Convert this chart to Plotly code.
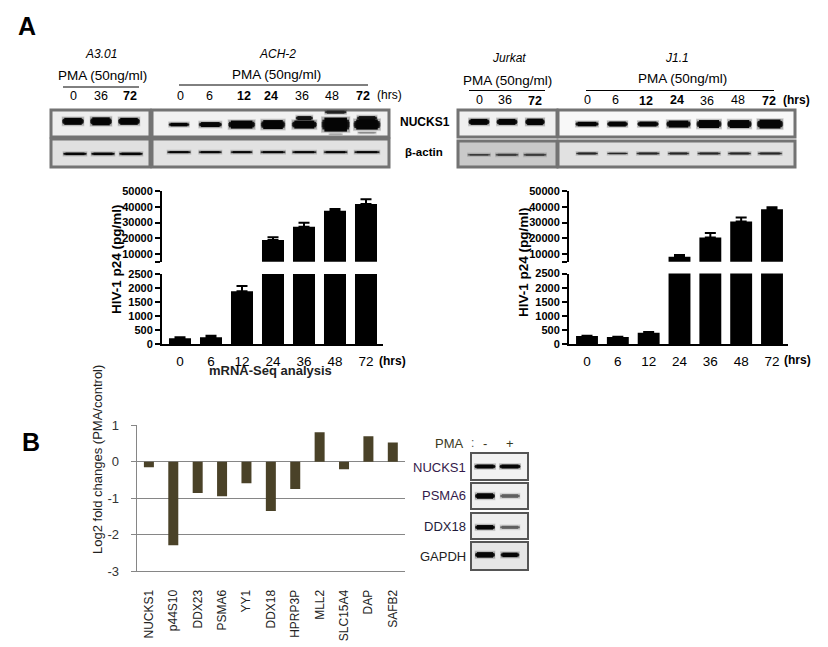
import plotly.graph_objects as go

W, H = 828, 647

# ---------------- data ----------------
hours = ["0", "6", "12", "24", "36", "48", "72"]
ach2_p24 = [213, 250, 1890, 18900, 27350, 37500, 41750]
ach2_err = [37, 50, 180, 1700, 2550, 1100, 2950]
j11_p24 = [293, 258, 411, 8300, 20400, 30600, 38400]
j11_err = [7, 12, 19, 1100, 3000, 2500, 1300]
upper_ticks = [10000, 20000, 30000, 40000, 50000]
lower_ticks = [0, 500, 1000, 1500, 2000, 2500]

genes = ["NUCKS1", "p44S10", "DDX23", "PSMA6", "YY1", "DDX18", "HPRP3P", "MLL2", "SLC15A4", "DAP", "SAFB2"]
log2fc = [-0.15, -2.29, -0.86, -0.95, -0.59, -1.35, -0.75, 0.81, -0.21, 0.70, 0.53]
log2_ticks = [-3, -2, -1, 0, 1]
log2_ticktext = ["-3", "-2", "-1", "0", "1"]

# band strength of each blot lane: band length (lanes), band thickness (px)
a301_nucks_len = [0.78, 0.78, 0.78]
a301_nucks_thick = [7, 8, 7]
a301_actin_len = [0.85, 0.85, 0.85]
a301_actin_thick = [2.5, 2.5, 2.5]
ach2_nucks_len = [0.66, 0.74, 0.86, 0.78, 0.80, 0.90, 0.86]
ach2_nucks_thick = [3.5, 5, 8, 9, 8, 14, 10]
ach2_actin_len = [0.76, 0.74, 0.70, 0.80, 0.78, 0.76, 0.82]
ach2_actin_thick = [2, 2, 2, 2, 2, 2, 2]
# extra smears beside the main ACH-2 bands: lane, height in panel, length, thickness, ink
ach2_extra_lane = [4, 5, 5, 6, 6]
ach2_extra_frac = [0.70, 0.92, 0.10, 0.70, 0.16]
ach2_extra_len = [0.55, 0.70, 0.45, 0.65, 0.60]
ach2_extra_thick = [4, 3, 1.5, 4, 1.5]
ach2_extra_ink = ["#111111", "#222222", "#aaaaaa", "#111111", "#8a8a8a"]
jur_nucks_len = [0.75, 0.75, 0.70]
jur_nucks_thick = [6, 6, 6.5]
jur_actin_len = [0.82, 0.82, 0.82]
jur_actin_thick = [1.5, 2, 2]
j11_nucks_len = [0.76, 0.68, 0.70, 0.80, 0.82, 0.80, 0.86]
j11_nucks_thick = [4.5, 5, 5, 7, 8, 8, 9]
j11_actin_len = [0.72, 0.68, 0.76, 0.70, 0.76, 0.76, 0.80]
j11_actin_thick = [2, 1.5, 2, 2, 2, 2, 2]
gel_nucks_len = [0.85, 0.85]
gel_nucks_thick = [4, 4]
gel_psma6_len = [0.80, 0.80]
gel_psma6_thick = [5.5, 3.5]
gel_ddx18_len = [0.80, 0.80]
gel_ddx18_thick = [4.5, 3]
gel_gapdh_len = [0.80, 0.75]
gel_gapdh_thick = [5.5, 4.5]
gel_ink_plus = ["#050505", "#5f5f5f"]

fig = go.Figure()
layout = dict(
    width=W, height=H, autosize=False, margin=dict(l=0, r=0, t=0, b=0),
    paper_bgcolor="white", plot_bgcolor="rgba(0,0,0,0)", showlegend=False,
    font=dict(family="Liberation Sans", color="black"),
)
shapes, annotations = [], []
n_ax = [0]


def dom_x(a, b):
    return [a / W, b / W]


def dom_y(top, bottom):
    return [1 - bottom / H, 1 - top / H]


def new_axes(x_dom, y_dom, xcfg, ycfg):
    n_ax[0] += 1
    i = n_ax[0]
    xn, yn = ("x", "y") if i == 1 else (f"x{i}", f"y{i}")
    key = "" if i == 1 else str(i)
    layout["xaxis" + key] = dict(domain=dom_x(*x_dom), anchor=yn, automargin=False, **xcfg)
    layout["yaxis" + key] = dict(domain=dom_y(*y_dom), anchor=xn, automargin=False, **ycfg)
    return xn, yn


def text(x, y, s, size=12, bold=False, italic=False, color="black", anchor="center", angle=0):
    if bold:
        s = f"<b>{s}</b>"
    if italic:
        s = f"<i>{s}</i>"
    annotations.append(dict(x=x / W, y=1 - y / H, xref="paper", yref="paper", text=s, showarrow=False,
                            xanchor=anchor, yanchor="middle", textangle=angle,
                            font=dict(size=size, color=color, family="Liberation Sans")))


def hline(x0, x1, y, color="black", width=1):
    shapes.append(dict(type="line", xref="paper", yref="paper", x0=x0 / W, x1=x1 / W,
                       y0=1 - y / H, y1=1 - y / H, line=dict(color=color, width=width)))


def blot(x_dom, y_dom, lane_first_px, lane_last_px, lengths, thicks, bg, border="#737373",
         ink="#050505", band_frac=0.5, bw=3, inks=None, extras=None):
    n = len(lengths)
    step = (lane_last_px - lane_first_px) / max(n - 1, 1)
    xr = [(x_dom[0] - lane_first_px) / step, (x_dom[1] - lane_first_px) / step]
    hide = dict(visible=False, fixedrange=True)
    xn, yn = new_axes(x_dom, y_dom, dict(range=xr, **hide), dict(range=[0, 1], **hide))
    shapes.append(dict(type="rect", xref=f"{xn} domain", yref=f"{yn} domain", x0=0, x1=1, y0=0, y1=1,
                       fillcolor=bg, line=dict(color=border, width=bw), layer="below"))

    def band(lane, frac, ln, th, col):
        # soft halo, then ever shorter and thicker strokes: a band with tapered ends
        for f_len, f_th, extra, op in ((1.04, 1.0, 3.0, 0.13), (1.0, 1.0, 1.2, 0.18), (1.0, 0.40, 0, 0.6),
                                       (0.94, 0.70, 0, 0.85), (0.80, 1.0, 0, 1.0)):
            fig.add_trace(go.Scatter(
                x=[lane - ln * f_len / 2, lane + ln * f_len / 2], y=[frac, frac],
                xaxis=xn, yaxis=yn, mode="lines", hoverinfo="skip",
                opacity=op, line=dict(color=col, width=th * f_th + extra)))

    if extras:
        for e in zip(*extras):
            band(*e)
    for lane, (ln, th) in enumerate(zip(lengths, thicks)):
        band(lane, band_frac, ln, th, inks[lane] if inks else ink)
    return xn, yn


def p24_chart(x_px, upper_y, lower_y, values, errs):
    # x_px: axis left/right + first and last bar centres
    left, right, c0, c6 = x_px
    step = (c6 - c0) / 6
    xr = [(left - c0) / step, (right - c0) / step]
    # lower panel
    xn, yn = new_axes((left, right), lower_y,
                      dict(type="category", categoryorder="array", categoryarray=hours, range=xr,
                           showline=True, linecolor="black", linewidth=2, ticks="outside", ticklen=3,
                           tickwidth=1, tickcolor="rgba(0,0,0,0)", fixedrange=True,
                           tickfont=dict(size=13.5, family="Liberation Sans", color="black")),
                      dict(range=[0, 2500], tickmode="array", tickvals=lower_ticks, showline=True,
                           linecolor="black", linewidth=2, ticks="outside", ticklen=5, tickwidth=2,
                           tickcolor="black", showgrid=False, zeroline=False, fixedrange=True,
                           ticktext=[f"<b>{v}</b>" for v in lower_ticks],
                           tickfont=dict(size=11, family="Liberation Sans", color="black")))
    fig.add_trace(go.Bar(x=hours, y=values, xaxis=xn, yaxis=yn, marker=dict(color="black", line_width=0),
                         width=0.71, hoverinfo="skip",
                         error_y=dict(type="data", array=errs, arrayminus=[0] * 7, symmetric=False,
                                      color="black", thickness=2, width=5.5)))
    # upper panel
    top_px, bot_px = upper_y
    per_px = 40000 / (254 - 191)
    low = 10000 - (bot_px - 254) * per_px
    tv = [low] + upper_ticks
    xn, yn = new_axes((left, right), upper_y,
                      dict(type="category", categoryorder="array", categoryarray=hours, range=xr,
                           visible=False, fixedrange=True),
                      dict(range=[low, 50000], tickmode="array", tickvals=tv,
                           ticktext=[""] + [f"<b>{v}</b>" for v in upper_ticks], showline=True,
                           linecolor="black", linewidth=2, ticks="outside", ticklen=5, tickwidth=2,
                           tickcolor="black", showgrid=False, zeroline=False, fixedrange=True,
                           tickfont=dict(size=11, family="Liberation Sans", color="black")))
    fig.add_trace(go.Bar(x=hours, y=values, xaxis=xn, yaxis=yn, marker=dict(color="black", line_width=0),
                         width=0.71, hoverinfo="skip",
                         error_y=dict(type="data", array=errs, arrayminus=[0] * 7, symmetric=False,
                                      color="black", thickness=2, width=5.5)))


# ---------------- Panel A blots ----------------
blot((51, 150), (110, 137), 73, 129, a301_nucks_len, a301_nucks_thick, "#ededed", band_frac=0.58)
blot((152, 389), (110, 137), 179, 367, ach2_nucks_len, ach2_nucks_thick, "#f1f1f1", band_frac=0.46,
     extras=(ach2_extra_lane, ach2_extra_frac, ach2_extra_len, ach2_extra_thick, ach2_extra_ink))
blot((51, 150), (139, 167), 75, 131, a301_actin_len, a301_actin_thick, "#e0e0e0", band_frac=0.47)
blot((152, 389), (139, 167), 179, 367, ach2_actin_len, ach2_actin_thick, "#e2e2e2", band_frac=0.53)
blot((458, 557), (110, 137), 479, 535, jur_nucks_len, jur_nucks_thick, "#f0f0f0", band_frac=0.56)
blot((558, 795), (110, 137), 587, 770, j11_nucks_len, j11_nucks_thick, "#f8f8f8", band_frac=0.48)
blot((458, 557), (141, 167), 479, 535, jur_actin_len, jur_actin_thick, "#c9c9c9", ink="#3a3a3a", band_frac=0.47)
blot((558, 795), (141, 167), 587, 770, j11_actin_len, j11_actin_thick, "#e1e1e1", ink="#262626", band_frac=0.52)

# ---------------- p24 charts ----------------
p24_chart((162, 383, 180, 366), (191, 261.7), (274, 344.3), ach2_p24, ach2_err)
p24_chart((569, 788, 587, 772), (191, 261.7), (273.5, 344.3), j11_p24, j11_err)

# ---------------- Panel B bars ----------------
xn, yn = new_axes((136.7, 405), (425.3, 571),
                  dict(type="category", categoryorder="array", categoryarray=genes, range=[-0.5, 10.5],
                       showline=True, linecolor="#868686", linewidth=1, ticks="outside", ticklen=13,
                       tickcolor="rgba(0,0,0,0)", tickangle=-90,
                       fixedrange=True, tickfont=dict(size=12, family="Liberation Sans", color="#222222")),
                  dict(range=[-3, 1], tickmode="array", tickvals=log2_ticks, ticktext=log2_ticktext,
                       showline=True, linecolor="#868686", linewidth=1,
                       gridcolor="#868686", gridwidth=1, ticks="outside", ticklen=5, tickcolor="#868686",
                       ticklabelstandoff=9,
                       zeroline=True, zerolinecolor="#868686", zerolinewidth=1, fixedrange=True,
                       tickfont=dict(size=13, family="Liberation Sans", color="#333333")))
fig.add_trace(go.Bar(x=genes, y=log2fc, xaxis=xn, yaxis=yn, width=0.41, hoverinfo="skip",
                     marker=dict(color="#4a4228", line_width=0)))

# ---------------- gels ----------------
blot((471, 528), (453, 480), 485, 510, gel_nucks_len, gel_nucks_thick, "#f2f2f2", border="#555555", bw=2)
blot((471, 528), (483, 509), 485, 510, gel_psma6_len, gel_psma6_thick, "#f0f0f0", border="#555555", bw=2,
     inks=gel_ink_plus)
blot((471, 528), (513, 539), 485, 510, gel_ddx18_len, gel_ddx18_thick, "#eeeeee", border="#555555", bw=2,
     band_frac=0.45, inks=gel_ink_plus)
blot((471, 528), (542, 570), 485, 510, gel_gapdh_len, gel_gapdh_thick, "#e6e6e6", border="#555555", bw=2,
     band_frac=0.54)

# ---------------- texts ----------------
text(27, 26, "A", size=25, bold=True)
text(31, 442, "B", size=25, bold=True)

text(101, 54, "A3.01", size=12, italic=True)
text(277, 54, "ACH-2", size=12, italic=True)
text(102, 76, "PMA (50ng/ml)", size=13.5)
text(276, 75, "PMA (50ng/ml)", size=13.5)
hline(63, 139, 87)
hline(179, 368, 85)
for x, s in zip([73, 101, 130], ["0", "36", "72"]):
    text(x, 96, s, size=12.5, bold=(s == "72"))
for x, s in zip([180, 209, 244, 271, 302, 332, 363], hours):
    text(x, 96, s, size=12.5, bold=s in ("12", "24", "72"))
text(389, 95, "(hrs)", size=12)
text(398, 122, "NUCKS1", size=12, bold=True, anchor="left")
text(403, 152, "β-actin", size=11.5, bold=True, anchor="left")

text(509, 58, "Jurkat", size=12, italic=True)
text(677, 58, "J1.1", size=12, italic=True)
text(508, 80, "PMA (50ng/ml)", size=13.5)
text(682, 79, "PMA (50ng/ml)", size=13.5)
hline(469, 545, 90.5)
hline(586, 774, 90.5)
for x, s, y in zip([479, 505, 535], ["0", "36", "72"], [100, 100, 101]):
    text(x, y, s, size=12.5, bold=(s == "72"))
for x, s, y in zip([587, 615, 646, 677, 707, 738, 769], hours, [100, 100, 101, 100, 101, 100, 101]):
    text(x, y, s, size=12.5, bold=s in ("12", "24", "72"))
text(796, 100, "(hrs)", size=12, bold=True)

text(116, 259, "HIV-1 p24 (pg/ml)", size=13.5, bold=True, angle=-90)
text(523, 262, "HIV-1 p24 (pg/ml)", size=13.5, bold=True, angle=-90)
text(270, 370, "mRNA-Seq analysis", size=13, bold=True, color="#222222")
text(392, 361, "(hrs)", size=12, bold=True)
text(797, 360, "(hrs)", size=12, bold=True)

text(97, 460, "Log2 fold changes (PMA/control)", size=13, color="#222222", angle=-90)

text(449, 443, "PMA", size=13, color="#3b3a1e")
text(472, 443, ":", size=12, color="#555555")
text(485, 443, "-", size=13, color="#3b3a1e")
text(510, 443, "+", size=13, color="#3b3a1e")
text(468, 467, "NUCKS1", size=13, color="#341a4a", anchor="right")
text(468, 496, "PSMA6", size=13, color="#341a4a", anchor="right")
text(468, 526, "DDX18", size=13, color="#1e1a3a", anchor="right")
text(468, 556, "GAPDH", size=13, color="#222222", anchor="right")

layout["shapes"] = shapes
layout["annotations"] = annotations
fig.update_layout(**layout)
fig.write_html("out.html", post_script="document.body.style.margin='0';document.documentElement.style.overflow='hidden';",
               config={"displayModeBar": False})
